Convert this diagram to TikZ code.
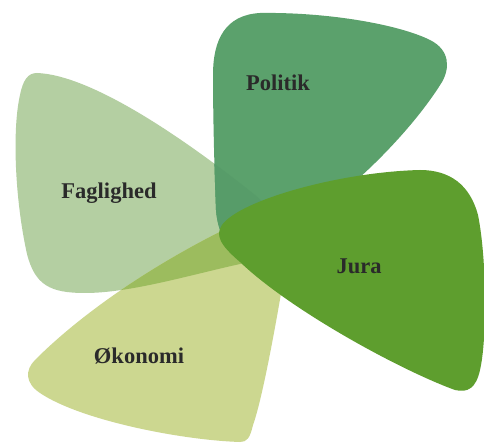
\documentclass[tikz,border=0pt]{standalone}
\usepackage{fontspec}
\setmainfont{Liberation Serif}
\definecolor{cFag}{HTML}{B4CFA2}
\definecolor{cOko}{HTML}{CCD790}
\definecolor{cFO}{HTML}{9CBC5E}
\definecolor{cPol}{HTML}{5BA16C}
\definecolor{cPF}{HTML}{579C69}
\definecolor{cJur}{HTML}{5E9E2E}
\definecolor{cTxt}{HTML}{2A2A2A}
\def\pathFag{(37,73) .. controls (90,75) and (180,135) .. (255,195)
 .. controls (285,220) and (280,255) .. (240,264)
 .. controls (190,275) and (130,293) .. (85,293)
 .. controls (50,293) and (35,285) .. (27,254)
 .. controls (15,200) and (12,130) .. (20,95)
 .. controls (23,80) and (28,73) .. (37,73) -- cycle}
\def\pathOko{(240,442) .. controls (180,440) and (80,420) .. (40,393)
 .. controls (25,383) and (25,370) .. (35,360)
 .. controls (90,305) and (170,255) .. (240,222)
 .. controls (275,205) and (295,230) .. (285,270)
 .. controls (275,330) and (262,400) .. (253,425)
 .. controls (250,438) and (247,442) .. (240,442) -- cycle}
\def\pathPol{(213,75) .. controls (213,40) and (225,15) .. (260,13)
 .. controls (330,12) and (400,25) .. (430,40)
 .. controls (450,50) and (450,68) .. (442,82)
 .. controls (400,150) and (300,240) .. (245,248)
 .. controls (228,250) and (218,235) .. (216,210)
 .. controls (214,160) and (213,110) .. (213,75) -- cycle}
\def\pathJur{(222,225) .. controls (240,200) and (340,172) .. (420,170)
 .. controls (450,170) and (470,185) .. (478,215)
 .. controls (487,260) and (487,340) .. (480,370)
 .. controls (476,388) and (468,393) .. (455,390)
 .. controls (400,370) and (290,310) .. (240,262)
 .. controls (220,245) and (215,235) .. (222,225) -- cycle}
\tikzset{lbl/.style={font=\bfseries\fontsize{22.5}{26}\selectfont, text=cTxt}}
\begin{document}
\begin{tikzpicture}[x=1pt,y=-1pt]
\useasboundingbox (0,0) rectangle (484,443);
\fill[white] (0,0) rectangle (484,443);
\fill[cFag] \pathFag;
\fill[cOko] \pathOko;
\begin{scope}
\clip \pathFag;
\fill[cFO] \pathOko;
\end{scope}
\fill[cPol] \pathPol;
\begin{scope}
\clip \pathFag;
\fill[cPF] \pathPol;
\end{scope}
\fill[cJur] \pathJur;
\node[lbl] (politik) at (278,83) {Politik};
\node[lbl] (faglighed) at (109,193) {Faglighed};
\node[lbl] (jura) at (359,266) {Jura};
\node[lbl] (okonomi) at (139,356) {Økonomi};
\end{tikzpicture}
\end{document}
